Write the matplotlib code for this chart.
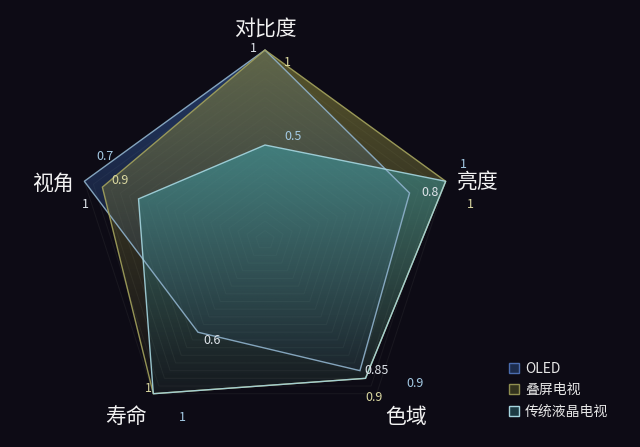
import numpy as np
import matplotlib
matplotlib.use("Agg")
import matplotlib.pyplot as plt
from matplotlib.patches import Polygon, Patch

plt.rcParams['font.family'] = ['Noto Sans CJK SC', 'DejaVu Sans']

categories = ["对比度", "亮度", "色域", "寿命", "视角"]
series_names = ["OLED", "叠屏电视", "传统液晶电视"]
oled = [1, 0.8, 0.85, 0.6, 1]
stack_tv = [1, 1, 0.9, 1, 0.9]
lcd = [0.5, 1, 0.9, 1, 0.7]
value_labels = [
    ["1", "0.8", "0.85", "0.6", "1"],
    ["1", "1", "0.9", "1", "0.9"],
    ["0.5", "1", "0.9", "1", "0.7"],
]

# styling
bg = "#0d0b15"
fill_colors = ["#30528f", "#7e7c3a", "#3aa6b0"]
edge_colors = ["#8fb2cc", "#a3a25c", "#a6d6e0"]
label_colors = ["#dfe4ea", "#d9d7a0", "#a3c9e3"]
leg_face = ["#1c2c4c", "#33331e", "#1d3b44"]
leg_edge = ["#4a6cae", "#8f8e50", "#a6d6e0"]
# pixel offsets of value labels from their vertex
label_offsets = [
    [(-12, 2), (21, 1), (17, 0), (14, -8), (1, -23)],
    [(22, -12), (25, -23), (8, -19), (-5, 5), (18, 7)],
    [(28, 8), (18, 17), (49, -5), (29, -24), (-34, 42)],
]
# pixel offsets of category names from the outer vertex
cat_offsets = [(0, 21), (32, 0), (29, -23), (-27, -23), (-31, -2)]

fig = plt.figure(figsize=(6.4, 4.47), dpi=100, facecolor=bg)
ax = fig.add_axes([0, 0, 1, 1])
ax.set_facecolor(bg)
R = 190.0
cx, cy = 265.0, 240.0
xlim = (-cx / R, (640 - cx) / R)
ylim = (-(447 - cy) / R, cy / R)
ax.set_aspect("equal")
ax.axis("off")

n = len(categories)
angles = np.deg2rad(90 - 72 * np.arange(n))


def to_xy(vals):
    v = np.asarray(vals, dtype=float)
    return v * np.cos(angles), v * np.sin(angles)


# concentric grid
for r in np.arange(0.05, 1.0001, 0.05):
    gx, gy = to_xy([r] * n)
    ax.add_patch(Polygon(np.c_[gx, gy], closed=True, fill=False,
                         edgecolor="#b8c4b0", alpha=0.07, lw=0.7, zorder=1))

alpha_top = [0.62, 0.62, 0.68]
for i, vals in enumerate([oled, stack_tv, lcd]):
    x, y = to_xy(vals)
    poly = Polygon(np.c_[x, y], closed=True, facecolor="none",
                   edgecolor=edge_colors[i], lw=1.0, alpha=0.9, zorder=5 + i)
    ax.add_patch(poly)
    clip = Polygon(np.c_[x, y], closed=True, transform=ax.transData)
    rgb = np.array(matplotlib.colors.to_rgb(fill_colors[i]))
    h = 200
    t = np.linspace(1, 0, h)[:, None]
    img = np.zeros((h, 2, 4))
    img[..., :3] = rgb
    img[..., 3] = 0.05 + alpha_top[i] * t ** 1.15
    im = ax.imshow(img, extent=(-1.1, 1.1, -0.85, 1.0), origin="upper",
                   aspect="auto", zorder=2 + i, interpolation="bilinear")
    im.set_clip_path(clip)
    for k in range(n):
        ax.annotate(value_labels[i][k], (x[k], y[k]), xytext=label_offsets[i][k],
                    textcoords="offset pixels", ha="center", va="center",
                    color=label_colors[i], fontsize=9, zorder=10)

ax.set_xlim(*xlim)
ax.set_ylim(*ylim)

ox, oy = to_xy([1] * n)
for k, name in enumerate(categories):
    ax.annotate(name, (ox[k], oy[k]), xytext=cat_offsets[k],
                textcoords="offset pixels", ha="center", va="center",
                color="#f2f2f2", fontsize=15, zorder=10)

handles = [Patch(facecolor=leg_face[i], edgecolor=leg_edge[i], lw=1.0)
           for i in range(3)]
leg = fig.legend(handles, series_names, loc="lower left",
                 bbox_to_anchor=(0.776, 0.035), frameon=False,
                 handlelength=0.7, handleheight=0.7, handletextpad=0.45,
                 labelspacing=0.55, fontsize=10, labelcolor="#e6e6e6")

fig.savefig("out.png", dpi=100, facecolor=bg)
